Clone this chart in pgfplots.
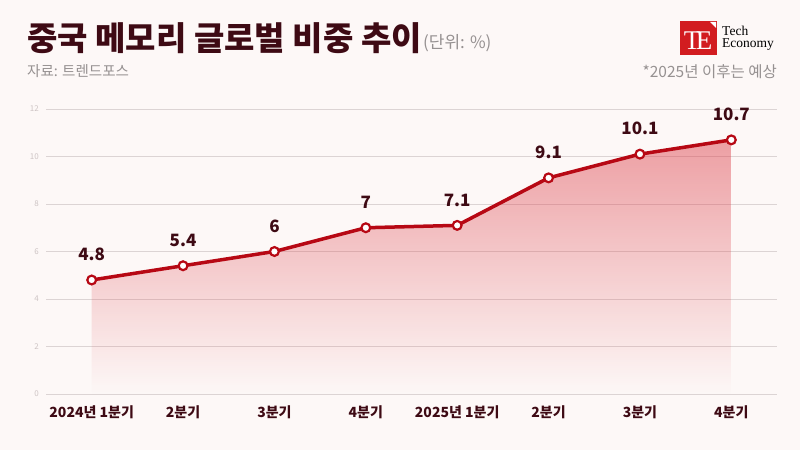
\documentclass[border=0pt]{standalone}
\usepackage{fontspec}
\setmainfont{Noto Sans CJK KR}
\newfontfamily\serif{Liberation Serif}
\usepackage{pgfplots}
\pgfplotsset{compat=1.18}
\usetikzlibrary{fadings}

\definecolor{bg}{RGB}{253,248,247}
\definecolor{linered}{RGB}{183,8,20}
\definecolor{fillred}{RGB}{220,62,72}
\definecolor{maroon}{RGB}{62,10,20}
\definecolor{gridc}{RGB}{220,212,212}
\definecolor{note}{RGB}{150,145,145}
\definecolor{ytk}{RGB}{205,196,196}
\definecolor{logored}{RGB}{210,28,32}

\tikzfading[name=down, top color=transparent!0, middle color=transparent!25, bottom color=transparent!100]

\begin{document}
\begin{tikzpicture}[x=1pt,y=1pt]
\fill[bg] (0,0) rectangle (800,450);
\useasboundingbox (0,0) rectangle (800,450);

% titles
\node[anchor=base west, inner sep=0, text=maroon, font=\fontsize{33}{33}\selectfont\bfseries] at (27,399) {중국 메모리 글로벌 비중 추이};
\node[anchor=base west, inner sep=0, text=note, font=\fontsize{17}{17}\selectfont] at (423,401) {(단위: \%)};
\node[anchor=base west, inner sep=0, text=note, font=\fontsize{14.5}{14.5}\selectfont] at (27,373) {자료: 트렌드포스};
\node[anchor=base east, inner sep=0, text=note, font=\fontsize{15.5}{15.5}\selectfont] at (777,372) {*2025년 이후는 예상};

% logo
\fill[logored] (680,395) rectangle (717,429);
\fill[white] (710,428) -- (716,428) -- (716,422) -- cycle;
\node[anchor=base, inner sep=0, text=white, font=\serif\fontsize{27}{27}\selectfont] at (692,400) {T};
\node[anchor=base, inner sep=0, text=white, font=\serif\fontsize{27}{27}\selectfont] at (704,400) {E};
\node[anchor=base west, inner sep=0, text=black, font=\serif\fontsize{13.5}{13.5}\selectfont] at (722,414) {Tech};
\node[anchor=base west, inner sep=0, text=black, font=\serif\fontsize{13.5}{13.5}\selectfont] at (722,402) {Economy};

\begin{axis}[
    at={(46pt,56pt)}, anchor=south west,
    scale only axis, width=731pt, height=285pt,
    xmin=-0.5, xmax=7.5, ymin=0, ymax=12,
    xtick={0,...,7},
    xticklabels={2024년 1분기,2분기,3분기,4분기,2025년 1분기,2분기,3분기,4분기},
    ytick={0,2,...,12},
    ymajorgrids, grid style={gridc, line width=0.9pt},
    axis line style={draw=none},
    tick style={draw=none},
    /pgf/number format/assume math mode=true,
    xticklabel style={font=\fontsize{14}{14}\selectfont\bfseries, text=maroon, anchor=north, inner sep=0pt, yshift=-11pt},
    yticklabel style={font=\fontsize{8}{8}\selectfont, text=ytk, anchor=east, inner sep=0pt, xshift=-7pt},
    clip=false,
]
\addplot[draw=none, fill=fillred, fill opacity=0.48, path fading=down, forget plot]
  coordinates {(0,4.8) (1,5.4) (2,6) (3,7) (4,7.1) (5,9.1) (6,10.1) (7,10.7)} \closedcycle;
\addplot[linered, line width=3.5pt, mark=*, mark size=4.4pt,
    mark options={fill=white, draw=linered, line width=2.2pt},
    nodes near coords,
    every node near coord/.append style={font=\fontsize{17}{17}\selectfont\bfseries, text=maroon, anchor=south, inner sep=0pt, yshift=18pt}]
  coordinates {(0,4.8) (1,5.4) (2,6) (3,7) (4,7.1) (5,9.1) (6,10.1) (7,10.7)};
\end{axis}
\end{tikzpicture}
\end{document}
